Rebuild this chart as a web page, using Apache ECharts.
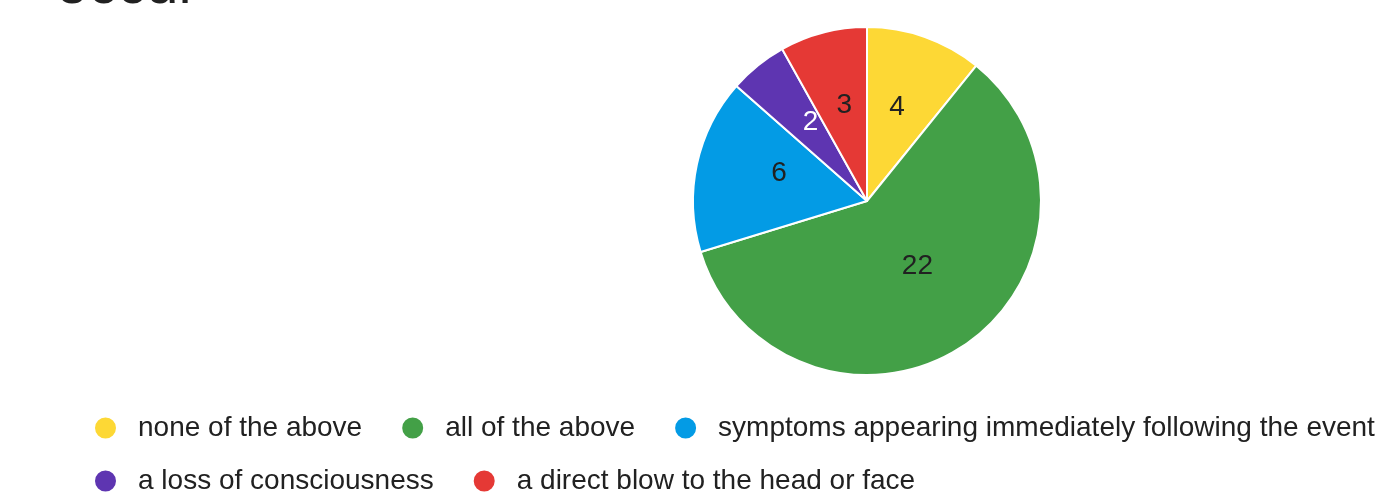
<!DOCTYPE html>
<html><head><meta charset="utf-8">
<script src="https://cdn.jsdelivr.net/npm/echarts@6/dist/echarts.min.js"></script>
<style>html,body{margin:0;padding:0;background:#fff}#c{width:1375px;height:492px}</style>
</head><body><div id="c"></div>
<script>
const titleText = "occur";
const categories = ["none of the above", "all of the above", "symptoms appearing immediately following the event", "a loss of consciousness", "a direct blow to the head or face"];
const values = [4, 22, 6, 2, 3];
const colors = ["#FDD835", "#43A047", "#039BE5", "#5E35B1", "#E53935"];
const labelColors = ["#212121", "#212121", "#212121", "#ffffff", "#212121"];

const chart = echarts.init(document.getElementById('c'), null, {renderer: 'canvas'});
const font = '"Liberation Sans", Arial, sans-serif';
const legendCommon = {
  orient: 'horizontal', icon: 'circle', itemWidth: 23, itemHeight: 23, itemGap: 38,
  textStyle: {fontFamily: font, fontSize: 28, color: '#212121', padding: [0, 0, 0, 16]},
  selectedMode: false, padding: 0, width: 2000
};
chart.setOption({
  animation: false,
  graphic: [{type: 'text', left: 56, top: -42, style: {text: titleText, font: '58px ' + font, fill: '#212121'}}],
  legend: [
    Object.assign({}, legendCommon, {left: 93, top: 414, data: categories.slice(0, 3)}),
    Object.assign({}, legendCommon, {left: 93, top: 467, data: categories.slice(3)})
  ],
  series: [{
    type: 'pie', center: [867, 201], radius: 174, startAngle: 90, clockwise: true,
    itemStyle: {borderColor: '#fff', borderWidth: 2},
    label: {position: 'inside', fontFamily: font, fontSize: 28},
    labelLine: {show: false},
    labelLayout: {dy: -9},
    emphasis: {disabled: true},
    data: categories.map((n, i) => ({
      name: n, value: values[i],
      itemStyle: {color: colors[i]},
      label: {color: labelColors[i], formatter: String(values[i])}
    }))
  }]
});
</script></body></html>
